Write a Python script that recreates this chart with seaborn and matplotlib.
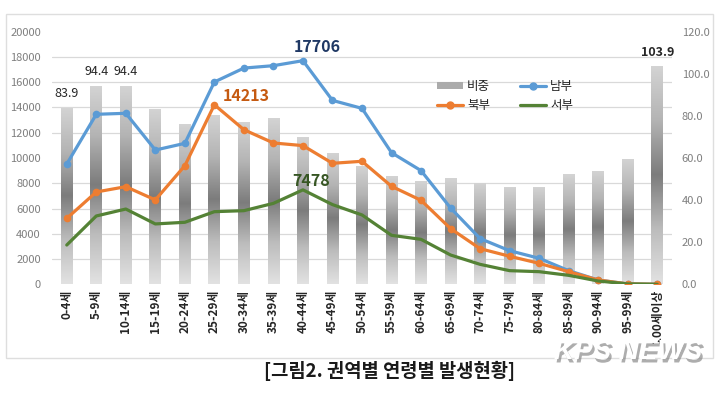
import matplotlib
matplotlib.use("Agg")
import matplotlib.pyplot as plt
import matplotlib.patheffects as pe
from matplotlib.patches import Patch, Rectangle
from matplotlib.lines import Line2D
from matplotlib.colors import LinearSegmentedColormap
import seaborn as sns
import numpy as np
import pandas as pd

# age groups and values
ages = ['0-4세', '5-9세', '10-14세', '15-19세', '20-24세', '25-29세', '30-34세',
        '35-39세', '40-44세', '45-49세', '50-54세', '55-59세', '60-64세', '65-69세',
        '70-74세', '75-79세', '80-84세', '85-89세', '90-94세', '95-99세', '100세이상']
nambu = [9520, 13460, 13540, 10630, 11160, 16020, 17120, 17310, 17706, 14560,
         13930, 10420, 9000, 6040, 3620, 2660, 2060, 1080, 340, 30, 0]
bukbu = [5220, 7310, 7730, 6680, 9390, 14213, 12240, 11190, 10980, 9580,
         9740, 7760, 6650, 4410, 2820, 2220, 1660, 1000, 340, 30, 0]
seobu = [3110, 5410, 5960, 4780, 4910, 5750, 5830, 6410, 7478, 6310,
         5490, 3880, 3560, 2320, 1580, 1080, 1000, 710, 260, 30, 0]
ratio = [83.9, 94.4, 94.4, 83.3, 76.1, 80.4, 77.1, 79.2, 69.8, 62.4,
         56.2, 51.5, 48.9, 50.3, 48.0, 46.4, 46.1, 52.2, 53.8, 59.4, 103.9]

df = pd.DataFrame({'age': ages, 'pos': np.arange(len(ages)), '남부': nambu,
                   '북부': bukbu, '서부': seobu, '비중': ratio})

sns.set_theme(style="white")
plt.rcParams['font.family'] = ['Noto Sans CJK KR', 'DejaVu Sans']

fig = plt.figure(figsize=(7.21, 3.95), dpi=100)
ax = fig.add_axes([52 / 721, 1 - 284.3 / 395, 620 / 721, 252.6 / 395])
ax2 = ax.twinx()

# bars on the right axis, drawn behind the lines, with a vertical grey gradient
sns.barplot(data=df, x='pos', y='비중', ax=ax2, width=0.4, color='#a0a0a0',
            linewidth=0, native_scale=True)
grad = LinearSegmentedColormap.from_list(
    'g', [(0, '#d4d4d4'), (0.25, '#b4b4b4'), (0.5, '#7c7c7c'), (0.75, '#bcbcbc'), (1, '#e2e2e2')])
img = np.repeat(np.linspace(0, 1, 512).reshape(-1, 1), 4, axis=1)
for p in list(ax2.patches):
    x0, w, h = p.get_x(), p.get_width(), p.get_height()
    p.set_facecolor('none')
    im = ax2.imshow(img, cmap=grad, aspect='auto', extent=[x0, x0 + w, 0, h],
                    origin='upper', zorder=1, interpolation='bilinear')
    im.set_clip_path(p)
ax2.set_ylim(0, 120)
ax2.set_yticks(np.arange(0, 121, 20))
ax2.set_yticklabels([f'{v:.1f}' for v in np.arange(0, 121, 20)])
# gridlines follow the left axis steps (2000 = 12 on the right scale), behind the bars
ax2.set_yticks(np.arange(0, 121, 12), minor=True)
ax2.yaxis.grid(True, which='minor', color='#d9d9d9', linewidth=0.9)
ax2.set_axisbelow(True)
ax2.set_ylabel('')

sns.lineplot(data=df, x='pos', y='남부', ax=ax, color='#5b9bd5', marker='o',
             markersize=5.5, markeredgewidth=0, linewidth=2.3)
sns.lineplot(data=df, x='pos', y='북부', ax=ax, color='#ed7d31', marker='o',
             markersize=5.5, markeredgewidth=0, linewidth=2.3)
sns.lineplot(data=df, x='pos', y='서부', ax=ax, color='#548235', linewidth=2.3)
ax.set_zorder(ax2.get_zorder() + 1)
ax.patch.set_visible(False)

ax.set_xlim(-0.5, len(ages) - 0.5)
ax.set_ylim(0, 20000)
ax.set_yticks(np.arange(0, 20001, 2000))
ax.set_xticks(np.arange(len(ages)))
ax.set_xticklabels(ages, rotation=90, fontsize=8.5, fontweight='bold', color='#262626')
ax.set_xlabel('')
ax.set_ylabel('')
ax.grid(False)
for a in (ax, ax2):
    for s in a.spines.values():
        s.set_visible(False)
    a.tick_params(axis='both', which='both', length=0, pad=3)
ax.tick_params(axis='y', labelsize=8, labelcolor='#7f7f7f', pad=8)
ax2.tick_params(axis='y', labelsize=8, labelcolor='#7f7f7f', pad=7)
ax.tick_params(axis='x', pad=4)

# data labels
for i in [0, 1, 2]:
    ax2.text(i, ratio[i] + 3.5, f'{ratio[i]:.1f}', ha='center', va='bottom',
             fontsize=9, color='#262626')
ax2.text(20, ratio[20] + 3, f'{ratio[20]:.1f}', ha='center', va='bottom',
         fontsize=9, fontweight='bold', color='#262626')
ax.text(8.48, 18810, f'{nambu[8]}', ha='center', va='center', fontsize=11.5,
        fontweight='bold', color='#1f3864')
ax.text(5.3, 14930, f'{bukbu[5]}', ha='left', va='center', fontsize=11.5,
        fontweight='bold', color='#c55a11')
ax.text(8.27, 8200, f'{seobu[8]}', ha='center', va='center', fontsize=11.5,
        fontweight='bold', color='#375623')

handles = [Patch(facecolor='#ababab', edgecolor='none'),
           Line2D([], [], color='#ed7d31', marker='o', markersize=5, lw=2.3),
           Line2D([], [], color='#5b9bd5', marker='o', markersize=5, lw=2.3),
           Line2D([], [], color='#548235', lw=2.3)]
labels = ['비중', '북부', '남부', '서부']
ax.legend(handles, labels, ncol=2, loc='upper left', bbox_to_anchor=(0.603, 0.853),
          frameon=False, fontsize=9, handlelength=2.1, handleheight=0.5,
          handletextpad=0.3, columnspacing=2.4, labelspacing=0.5)

# chart frame, caption and watermark
fig.patches.append(Rectangle((6 / 721, 1 - 358 / 395), 707 / 721, 344 / 395,
                             transform=fig.transFigure, fill=False,
                             edgecolor='#dedede', linewidth=1))
fig.text(390 / 721, 1 - 371 / 395, '[그림2. 권역별 연령별 발생현황]', ha='center',
         va='center', fontsize=13.5, fontweight='bold', color='#1a1a1a')
fig.text(628 / 721, 1 - 352 / 395, 'KPS NEWS', ha='center', va='center',
         fontsize=20, fontweight='bold', fontstyle='italic', color='white',
         family=['Liberation Sans', 'DejaVu Sans'],
         path_effects=[pe.withSimplePatchShadow(offset=(1.5, -2.5), shadow_rgbFace='#777777', alpha=0.6)])

fig.savefig('out.png', dpi=100)
